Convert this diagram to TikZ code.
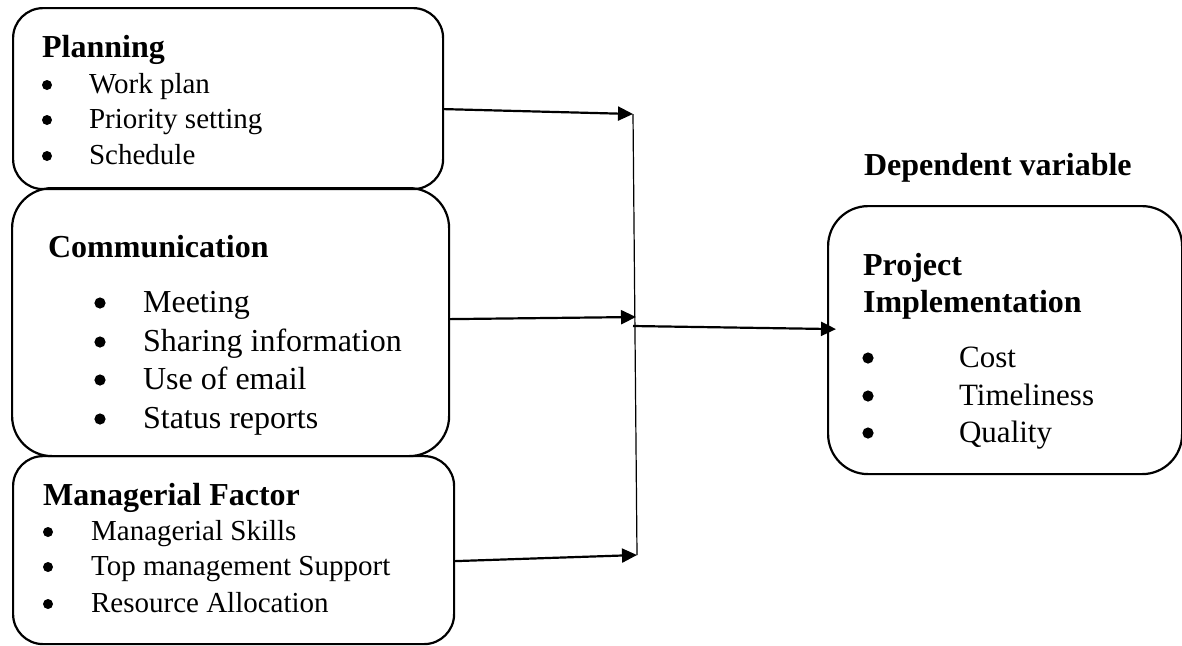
\documentclass[tikz,border=0pt]{standalone}
\usepackage{fontspec}
\setmainfont{Liberation Serif}
\usetikzlibrary{arrows.meta}

\begin{document}
\begin{tikzpicture}[x=0.5pt, y=-0.5pt, line width=1.1pt,
    every node/.append style={font=\fontsize{14.5}{17}\selectfont},
    box/.style={draw, inner sep=0pt, anchor=north west},
    head/.style={anchor=base west, inner sep=0pt, font=\fontsize{16}{19}\selectfont\bfseries},
    dot/.style={circle, fill, draw=none, inner sep=0pt, minimum size=5pt},
    bigdot/.style={dot, minimum size=5.6pt},
    item/.style={anchor=base west, inner sep=0pt},
    link/.style={-{Triangle[length=7.5pt, width=7pt]}}]
  \useasboundingbox (0,0) rectangle (1182,645);
  % independent variables
  \node[box, rounded corners=15pt, minimum width=215pt, minimum height=90.5pt] (plan) at (12,7) {};   \node[head] (planT) at (41,57) {Planning};
  \node[dot] (pb1) at (47,85) {};    \node[item] (pi1) at (88,93) {Work plan};
  \node[dot] (pb2) at (47,120) {};   \node[item] (pi2) at (88,128) {Priority setting};
  \node[dot] (pb3) at (47,156) {};   \node[item] (pi3) at (88,164) {Schedule};

  \node[box, rounded corners=20pt, minimum width=218.5pt, minimum height=134pt] (comm) at (11,187) {};   \node[head] (commT) at (47,257) {Communication};
  \begin{scope}[every node/.append style={font=\fontsize{16}{19}\selectfont}]
  \node[bigdot] (cb1) at (100,303) {};   \node[item] (ci1) at (142,312) {Meeting};
  \node[bigdot] (cb2) at (100,342) {};   \node[item] (ci2) at (142,351) {Sharing information};
  \node[bigdot] (cb3) at (100,380) {};   \node[item] (ci3) at (142,389) {Use of email};
  \node[bigdot] (cb4) at (100,419) {};   \node[item] (ci4) at (142,428) {Status reports};
  \end{scope}

  \node[box, rounded corners=15pt, minimum width=220.5pt, minimum height=94pt] (mgr) at (12,455) {};   \node[head] (mgrT) at (42,505) {Managerial Factor};
  \node[dot] (mb1) at (48,532) {};   \node[item] (mi1) at (90,540) {Managerial Skills};
  \node[dot] (mb2) at (48,567) {};   \node[item] (mi2) at (90,575) {Top management Support};
  \node[dot] (mb3) at (48,604) {};   \node[item] (mi3) at (90,612) {Resource Allocation};

  % dependent variable
  \node[head] (depL) at (863,175) {Dependent variable};
  \node[box, rounded corners=20pt, minimum width=177pt, minimum height=134pt] (dep) at (827,205) {};
  \node[head] (depT1) at (862,275) {Project};
  \node[head] (depT2) at (862,312) {Implementation};
  \begin{scope}[every node/.append style={font=\fontsize{15.5}{18}\selectfont}]
  \node[bigdot] (db1) at (868,358) {};   \node[item] (di1) at (958,367) {Cost};
  \node[bigdot] (db2) at (868,396) {};   \node[item] (di2) at (958,405) {Timeliness};
  \node[bigdot] (db3) at (868,433) {};   \node[item] (di3) at (958,442) {Quality};
  \end{scope}

  % connectors
  \coordinate (jp) at (633,114);
  \coordinate (jc) at (636,317);
  \coordinate (jm) at (637,555);
  \coordinate (jo) at (633,326);
  \draw[line width=0.6pt] (jp) -- (jm);
  \draw[link] ([yshift=-5.25pt]plan.east) -- (jp);
  \draw[link] ([yshift=1.5pt]comm.east) -- (jc);
  \draw[link] ([yshift=-5.5pt]mgr.east) -- (jm);
  \draw[link] (jo) -- ([xshift=4.5pt, yshift=5.5pt]dep.west);
\end{tikzpicture}
\end{document}
